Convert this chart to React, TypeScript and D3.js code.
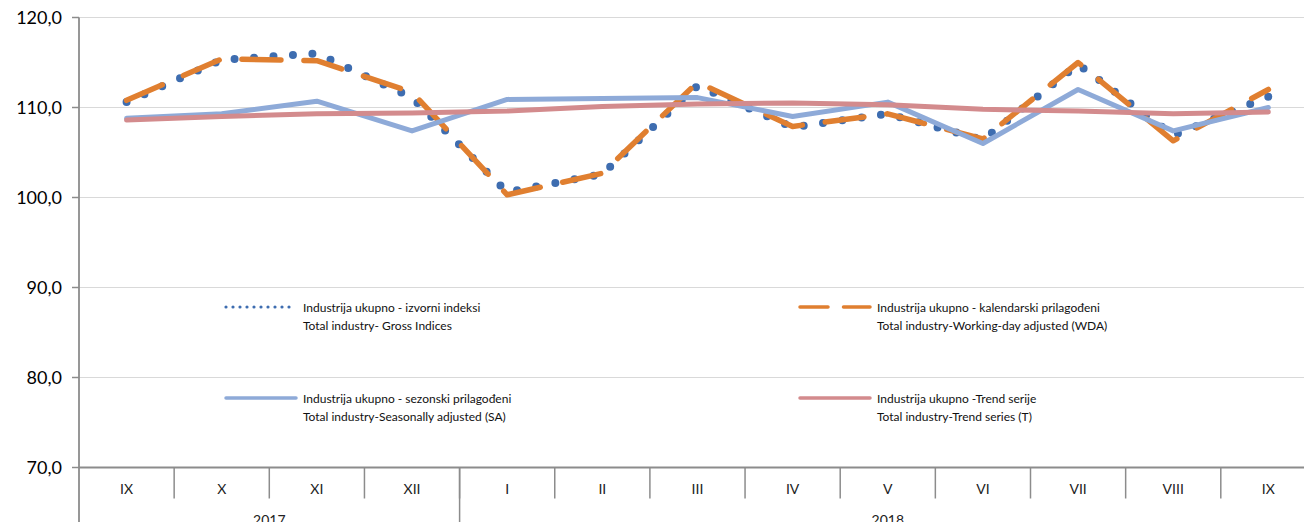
import * as d3 from "d3";

const months = ["IX", "X", "XI", "XII", "I", "II", "III", "IV", "V", "VI", "VII", "VIII", "IX"];
const years = ["2017", "2018"];
const yearSpans = [4, 9];

const gross = [110.6, 115.3, 116.0, 111.1, 100.6, 102.6, 112.4, 107.8, 109.3, 106.4, 114.8, 106.9, 111.2];
const wda = [110.8, 115.4, 115.2, 111.7, 100.3, 102.7, 112.8, 107.9, 109.3, 106.5, 115.0, 106.3, 112.0];
const sa = [108.8, 109.3, 110.7, 107.4, 110.9, 111.0, 111.1, 109.0, 110.6, 106.0, 112.0, 107.4, 110.0];
const trend = [108.6, 109.0, 109.3, 109.4, 109.6, 110.1, 110.4, 110.5, 110.3, 109.8, 109.6, 109.3, 109.5];

const yTicks = [70, 80, 90, 100, 110, 120];

const legendItems = [
  { key: "gross", lines: ["Industrija ukupno - izvorni indeksi", "Total industry- Gross Indices"] },
  { key: "wda", lines: ["Industrija ukupno - kalendarski prilagođeni", "Total industry-Working-day adjusted (WDA)"] },
  { key: "sa", lines: ["Industrija ukupno - sezonski prilagođeni", "Total industry-Seasonally adjusted (SA)"] },
  { key: "trend", lines: ["Industrija ukupno -Trend serije", "Total industry-Trend series (T)"] },
];

const W = 1304;
const H = 522;
const FONT = "Lato, 'Open Sans', sans-serif";

const styles: Record<string, { color: string; width: number; dash?: string; legendWidth: number; legendDash?: string }> = {
  gross: { color: "#3e6db0", width: 8, dash: "0 19.5", legendWidth: 3.2, legendDash: "0 7" },
  wda: { color: "#e07f30", width: 5.5, dash: "39 23", legendWidth: 3.5, legendDash: "28 15.5" },
  sa: { color: "#8eaad8", width: 5, legendWidth: 3.5 },
  trend: { color: "#d38b8d", width: 5, legendWidth: 3.5 },
};

export default function App() {
  const left = 79;
  const step = 95.15;
  const x = d3
    .scaleBand<number>()
    .domain(months.map((_, i) => i))
    .range([left, left + step * months.length])
    .paddingInner(0)
    .paddingOuter(0);
  const y = d3.scaleLinear().domain([70, 120]).range([467.5, 17.5]);
  const cx = (i: number) => (x(i) as number) + x.bandwidth() / 2;

  const line = d3
    .line<number>()
    .x((_, i) => cx(i))
    .y((d) => y(d));

  const series = [
    { key: "gross", data: gross },
    { key: "wda", data: wda },
    { key: "sa", data: sa },
    { key: "trend", data: trend },
  ];

  const fmt = (v: number) => v.toFixed(1).replace(".", ",");
  const axisColor = "#8c8c8c";
  const bottom = y(70);

  // year group boundaries
  let acc = 0;
  const yearGroups = years.map((yr, i) => {
    const start = acc;
    acc += yearSpans[i];
    return { yr, start, end: acc };
  });
  const xEdge = (i: number) => left + step * i;

  const legendPos = [
    { lx: 226, ly: 307 },
    { lx: 800, ly: 307 },
    { lx: 226, ly: 398 },
    { lx: 800, ly: 398 },
  ];

  return (
    <svg width={W} height={H} style={{ position: "absolute", left: 0, top: 0, background: "#fff" }} fontFamily={FONT}>
      {/* gridlines */}
      {yTicks.slice(1).map((t) => (
        <line key={t} x1={left} x2={W} y1={y(t)} y2={y(t)} stroke="#d9d9d9" strokeWidth={1.2} />
      ))}
      {/* y axis */}
      <line x1={left} x2={left} y1={y(120)} y2={H} stroke={axisColor} strokeWidth={1.8} />
      {yTicks.map((t) => (
        <g key={t}>
          <line x1={left - 7} x2={left} y1={y(t)} y2={y(t)} stroke={axisColor} strokeWidth={1.5} />
          <text x={62} y={y(t)} dy="0.35em" textAnchor="end" fontSize={18} fill="#000">
            {fmt(t)}
          </text>
        </g>
      ))}
      {/* x axis */}
      <line x1={left} x2={W} y1={bottom} y2={bottom} stroke={axisColor} strokeWidth={1.8} />
      {months.map((_, i) =>
        i === 0 ? null : (
          <line key={i} x1={xEdge(i)} x2={xEdge(i)} y1={bottom} y2={bottom + 31} stroke={axisColor} strokeWidth={1.5} />
        )
      )}
      {yearGroups.map((g) => (
        <line key={g.yr} x1={xEdge(g.end)} x2={xEdge(g.end)} y1={bottom} y2={H} stroke={axisColor} strokeWidth={1.5} />
      ))}
      {months.map((m, i) => (
        <text key={i} x={cx(i)} y={494} textAnchor="middle" fontSize={14} fill="#222">
          {m}
        </text>
      ))}
      {yearGroups.map((g) => (
        <text key={g.yr} x={(xEdge(g.start) + xEdge(g.end)) / 2} y={525} textAnchor="middle" fontSize={14} fill="#222">
          {g.yr}
        </text>
      ))}
      {/* series */}
      {series.map((s) => {
        const st = styles[s.key];
        return (
          <path
            key={s.key}
            d={line(s.data) as string}
            fill="none"
            stroke={st.color}
            strokeWidth={st.width}
            strokeDasharray={st.dash}
            strokeLinecap="round"
            strokeLinejoin="round"
          />
        );
      })}
      {/* legend */}
      {legendItems.map((item, i) => {
        const st = styles[item.key];
        const p = legendPos[i];
        return (
          <g key={item.key}>
            <line
              x1={p.lx}
              x2={p.lx + 70}
              y1={p.ly}
              y2={p.ly}
              stroke={st.color}
              strokeWidth={st.legendWidth}
              strokeDasharray={st.legendDash}
              strokeLinecap="round"
            />
            {item.lines.map((t, j) => (
              <text key={j} x={p.lx + 77} y={p.ly + 5 + j * 17.5} fontSize={12} fill="#111">
                {t}
              </text>
            ))}
          </g>
        );
      })}
    </svg>
  );
}
